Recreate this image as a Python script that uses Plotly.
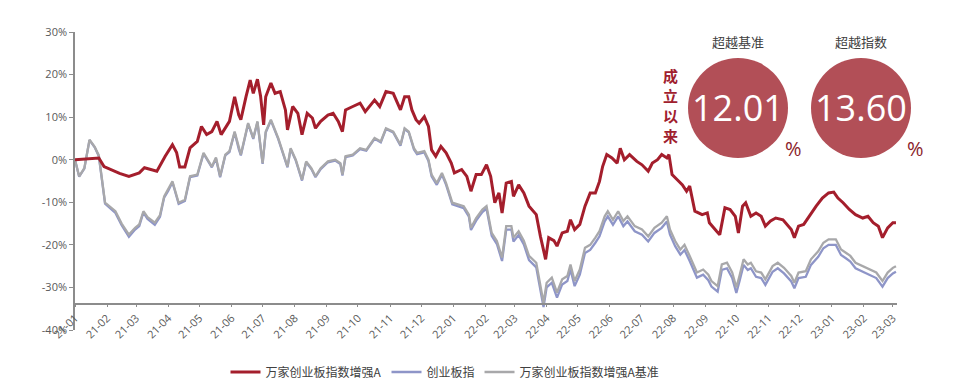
import pandas as pd
import plotly.graph_objects as go

# ---------------- data (values in %) ----------------
start_date = "2021-01-01"

fund_days = [0, 10, 16, 23, 28, 36, 43, 52, 62, 67,
             72, 79, 87, 94, 98, 101, 106, 111, 118, 122,
             127, 132, 137, 141, 149, 154, 158, 160, 165, 169,
             172, 176, 179, 182, 184, 189, 193, 198, 203, 205,
             210, 215, 219, 224, 229, 232, 237, 244, 249, 254,
             258, 261, 268, 275, 280, 289, 294, 300, 307, 314,
             318, 322, 325, 329, 332, 337, 341, 344, 348, 353,
             358, 363, 366, 373, 378, 382, 387, 392, 397, 401,
             405, 409, 412, 416, 421, 423, 428, 433, 438, 445,
             449, 454, 457, 462, 465, 470, 475, 478, 482, 487,
             492, 497, 502, 506, 509, 513, 518, 523, 526, 530,
             535, 542, 547, 553, 557, 562, 566, 571, 573, 576,
             581, 586, 590, 593, 598, 605, 610, 612, 619, 622,
             627, 632, 637, 640, 644, 647, 652, 657, 662, 666,
             671, 676, 683, 688, 691, 694, 698, 703, 708, 715,
             721, 727, 732, 736, 741, 747, 753, 760, 765, 770,
             775, 779, 784, 789, 792]
fund_values = [0, 0.2, 0.4, 0.4, -1.6, -2.5, -3.2, -3.9, -3.1, -1.9,
               -2.3, -2.7, 0.8, 3.5, 1.7, -1.7, -1.7, 2.8, 4.3, 7.8,
               5.9, 6.6, 9.0, 5.9, 9.0, 14.8, 10.5, 9.4, 14.8, 18.7,
               15.6, 18.9, 15.0, 8.2, 14.8, 18.0, 15.6, 16.0, 11.7, 7.0,
               12.5, 10.9, 5.9, 10.9, 9.8, 7.4, 9.0, 10.5, 10.9, 9.0,
               6.6, 11.7, 12.5, 13.3, 11.3, 14.0, 12.5, 16.0, 15.6, 11.7,
               14.8, 14.8, 11.7, 9.4, 8.6, 10.1, 7.8, 2.3, 0.8, 3.1,
               1.6, -0.8, -3.1, -2.3, -3.9, -7.4, -3.5, -3.5, -1.2, -3.9,
               -10.1, -7.8, -12.5, -5.5, -5.1, -8.6, -5.9, -7.8, -10.9, -12.9,
               -18.0, -23.4, -18.3, -19.0, -20.3, -17.2, -16.8, -14.1, -16.4, -15.2,
               -10.9, -7.8, -7.8, -5.1, -1.6, 1.2, 0.4, -0.8, 2.7, 0.0,
               1.2, -0.4, -1.2, -2.7, -0.8, 0.0, 1.2, 0.4, 1.2, -3.5,
               -4.7, -5.9, -7.4, -6.2, -12.1, -12.9, -12.5, -14.8, -16.8, -17.6,
               -11.3, -11.7, -13.3, -17.2, -10.9, -10.1, -13.3, -12.5, -13.3, -15.6,
               -14.4, -13.7, -14.1, -15.6, -16.4, -18.3, -15.6, -15.2, -13.3, -10.9,
               -9.0, -7.8, -7.6, -9.0, -10.1, -11.7, -12.9, -13.7, -13.3, -14.8,
               -15.6, -18.3, -16.0, -14.8, -14.8]

index_days = [0, 4, 9, 14, 19, 23, 29, 34, 39, 45,
              52, 58, 62, 66, 70, 77, 82, 86, 90, 94,
              100, 106, 111, 118, 124, 132, 136, 140, 145, 149,
              154, 158, 160, 167, 172, 176, 178, 181, 184, 189,
              196, 203, 205, 208, 213, 219, 223, 228, 232, 237,
              244, 251, 256, 258, 261, 268, 275, 281, 289, 295,
              300, 307, 314, 318, 322, 327, 330, 337, 341, 344,
              349, 354, 358, 364, 375, 380, 382, 387, 393, 397,
              402, 407, 412, 416, 421, 423, 428, 433, 438, 445,
              449, 452, 455, 460, 465, 470, 475, 478, 482, 487,
              492, 497, 502, 506, 511, 514, 519, 524, 529, 533,
              540, 547, 553, 559, 566, 571, 574, 579, 584, 588,
              593, 600, 606, 611, 614, 620, 624, 629, 634, 638,
              641, 645, 649, 652, 657, 662, 666, 673, 678, 684,
              691, 694, 698, 705, 710, 717, 722, 727, 734, 739,
              744, 748, 753, 760, 766, 773, 779, 784, 789, 792]
bench_values = [0, -3.9, -2.0, 4.7, 3.0, 1.0, -10.1, -11.0, -12.1, -15.0,
                -17.6, -16.0, -15.2, -12.1, -13.5, -14.8, -13.0, -8.6, -7.0, -5.1,
                -10.1, -9.4, -3.9, -3.5, 1.6, -1.6, 0.5, -3.9, 1.2, 2.0,
                6.6, 2.7, 1.2, 8.6, 5.1, 9.0, 5.5, -0.8, 6.6, 9.4,
                5.1, 0.0, -1.6, 2.7, 0.0, -4.7, -0.4, -2.0, -3.9, -2.0,
                -0.4, 0.0, -0.8, -3.5, 0.8, 1.2, 2.7, 2.3, 5.1, 4.3,
                7.4, 6.6, 3.5, 7.4, 6.6, 2.7, 1.6, 2.0, 0.0, -3.5,
                -5.5, -3.1, -5.5, -10.1, -10.9, -12.9, -16.0, -13.7, -11.7, -10.9,
                -17.2, -19.1, -23.0, -15.6, -15.6, -18.3, -16.8, -19.0, -22.6, -24.2,
                -29.7, -33.6, -28.9, -27.7, -31.2, -28.1, -27.3, -24.6, -28.5, -25.8,
                -20.7, -20.0, -18.3, -16.8, -13.3, -12.1, -14.1, -12.1, -14.4, -13.3,
                -15.6, -16.4, -18.0, -16.0, -14.8, -13.3, -16.4, -19.1, -21.1, -20.0,
                -22.6, -26.5, -25.8, -27.0, -28.5, -29.7, -24.6, -24.2, -26.5, -30.0,
                -27.3, -23.4, -24.6, -24.2, -26.2, -26.5, -28.1, -25.0, -24.2, -25.4,
                -27.3, -28.9, -26.5, -26.2, -23.4, -21.5, -19.5, -18.7, -18.7, -21.1,
                -21.9, -22.6, -24.2, -25.0, -25.8, -26.5, -28.5, -26.5, -25.4, -25.0]
index_values = [0, -4.0, -2.1, 4.6, 2.9, 0.8, -10.3, -11.3, -12.5, -15.4,
                -18.1, -16.4, -15.6, -12.4, -13.9, -15.3, -13.4, -8.9, -7.3, -5.3,
                -10.4, -9.7, -4.1, -3.7, 1.4, -1.8, 0.3, -4.1, 1.0, 1.8,
                6.4, 2.5, 1.0, 8.4, 4.9, 8.8, 5.3, -1.0, 6.4, 9.2,
                4.9, -0.2, -1.8, 2.5, -0.2, -4.9, -0.6, -2.2, -4.1, -2.2,
                -0.6, -0.2, -1.0, -3.7, 0.6, 1.0, 2.5, 2.1, 4.9, 4.1,
                7.2, 6.4, 3.3, 7.2, 6.4, 2.4, 1.3, 1.7, -0.3, -3.9,
                -5.9, -3.5, -5.9, -10.5, -11.4, -13.4, -16.5, -14.3, -12.3, -11.5,
                -17.9, -19.8, -23.8, -16.4, -16.4, -19.2, -17.7, -19.9, -23.6, -25.3,
                -30.8, -34.6, -30.0, -28.9, -32.4, -29.3, -28.5, -25.8, -29.7, -27.0,
                -21.9, -21.2, -19.5, -18.0, -14.5, -13.3, -15.3, -13.3, -15.6, -14.5,
                -16.8, -17.6, -19.2, -17.2, -16.0, -14.5, -17.6, -20.3, -22.3, -21.2,
                -23.8, -27.7, -27.0, -28.3, -29.8, -31.0, -25.9, -25.5, -27.8, -31.3,
                -28.6, -24.7, -25.9, -25.5, -27.5, -27.8, -29.4, -26.3, -25.5, -26.7,
                -28.6, -30.2, -27.8, -27.5, -24.7, -22.8, -20.8, -20.0, -20.0, -22.4,
                -23.2, -23.9, -25.5, -26.3, -27.1, -27.8, -29.8, -27.8, -26.7, -26.3]

series_names = ["万家创业板指数增强A", "创业板指", "万家创业板指数增强A基准"]
y_tick_vals = [30, 20, 10, 0, -10, -20, -30, -40]
y_tick_text = ["30%", "20%", "10%", "0%", "-10%", "-20%", "-30%", "-40%"]
x_end_date = "2023-03-05"
axis_cross_value = -33.8

excess_labels = ["超越基准", "超越指数"]
excess_values = ["12.01", "13.60"]
side_label = "成立以来"

# ---------------- figure ----------------
# the page body has an 8px margin; the figure is sized to fit inside the window
OFF = 8
W, H = 954 - 2 * OFF, 390 - 2 * OFF
SL, SR, ST, SB = 75, 897, 32, 330          # plot-area edges in window pixels
L, T = SL - OFF, ST - OFF
R, B = W - (SR - OFF), H - (SB - OFF)
plot_w = W - L - R
plot_h = H - T - B


def px(x):
    """window pixel x -> paper fraction"""
    return (x - SL) / plot_w


def py(y):
    """window pixel y -> paper fraction"""
    return (SB - y) / plot_h


base = pd.Timestamp(start_date)
fund_dates = base + pd.to_timedelta(fund_days, unit="D")
index_dates = base + pd.to_timedelta(index_days, unit="D")

RED = "#A41E2C"
BLUE = "#8E95C8"
GREY = "#A8A8AA"

fig = go.Figure()
fig.add_trace(go.Scatter(x=index_dates, y=index_values, mode="lines", name=series_names[1],
                         line=dict(color=BLUE, width=2.3), legendrank=2))
fig.add_trace(go.Scatter(x=index_dates, y=bench_values, mode="lines", name=series_names[2],
                         line=dict(color=GREY, width=2.3), legendrank=3))
fig.add_trace(go.Scatter(x=fund_dates, y=fund_values, mode="lines", name=series_names[0],
                         line=dict(color=RED, width=3), legendrank=1))

yrange = [min(y_tick_vals), max(y_tick_vals)]
axis_pos = (axis_cross_value - yrange[0]) / (yrange[1] - yrange[0])

fig.update_layout(
    width=W, height=H,
    margin=dict(l=L, r=R, t=T, b=B, autoexpand=False),
    paper_bgcolor="white", plot_bgcolor="white",
    font=dict(family="Open Sans, Noto Sans CJK SC, sans-serif", color="#595959", size=11),
    showlegend=True,
    legend=dict(orientation="h", x=px(445), xanchor="center", y=py(372), yanchor="middle",
                font=dict(family="Noto Sans CJK SC", size=12, color="#404040"),
                itemwidth=30, traceorder="normal"),
    xaxis=dict(type="date", range=[start_date, x_end_date], anchor="free", position=axis_pos,
               dtick="M1", tick0=start_date, tickformat="%y-%m", tickangle=-45,
               showline=True, linecolor="#8C8C8C", linewidth=1.5,
               ticks="outside", ticklen=3, tickcolor="#8C8C8C",
               showgrid=False, zeroline=False, automargin=False,
               tickfont=dict(size=11, color="#595959")),
    yaxis=dict(range=yrange, tickvals=y_tick_vals, ticktext=y_tick_text,
               showline=True, linecolor="#8C8C8C", linewidth=1.5,
               ticks="outside", ticklen=4, tickcolor="#8C8C8C",
               showgrid=False, zeroline=False, automargin=False,
               tickfont=dict(size=11, color="#595959")),
)

# circles with excess returns
circle_centers = [(738, 108), (861, 108)]
for (cx, cy), lab, val in zip(circle_centers, excess_labels, excess_values):
    fig.add_shape(type="circle", xref="paper", yref="paper",
                  xsizemode="pixel", ysizemode="pixel",
                  xanchor=px(cx), yanchor=py(cy),
                  x0=-50, x1=50, y0=-50, y1=50,
                  fillcolor="#B24F57", line=dict(width=0), layer="above")
    fig.add_annotation(x=px(cx), y=py(cy), xref="paper", yref="paper", text=val,
                       showarrow=False, xanchor="center", yanchor="middle",
                       font=dict(family="Open Sans", size=36, color="white"))
    fig.add_annotation(x=px(cx), y=py(42), xref="paper", yref="paper", text=lab,
                       showarrow=False, xanchor="center", yanchor="middle",
                       font=dict(family="Noto Sans CJK SC", size=13, color="#404040"))
    fig.add_annotation(x=px(cx + 55), y=py(148), xref="paper", yref="paper", text="%",
                       showarrow=False, xanchor="center", yanchor="middle",
                       font=dict(family="Open Sans", size=20, color="#8B1E2C"))

# vertical label, one character per annotation
char_rows = [75.5, 95.5, 115.5, 135.5]
for ch, cy in zip(side_label, char_rows):
    fig.add_annotation(x=px(670), y=py(cy), xref="paper", yref="paper",
                       text="<b>" + ch + "</b>", height=17,
                       showarrow=False, xanchor="center", yanchor="middle",
                       font=dict(family="Noto Sans CJK SC", size=15, color="#A0202E"))

fig.write_html("out.html")
